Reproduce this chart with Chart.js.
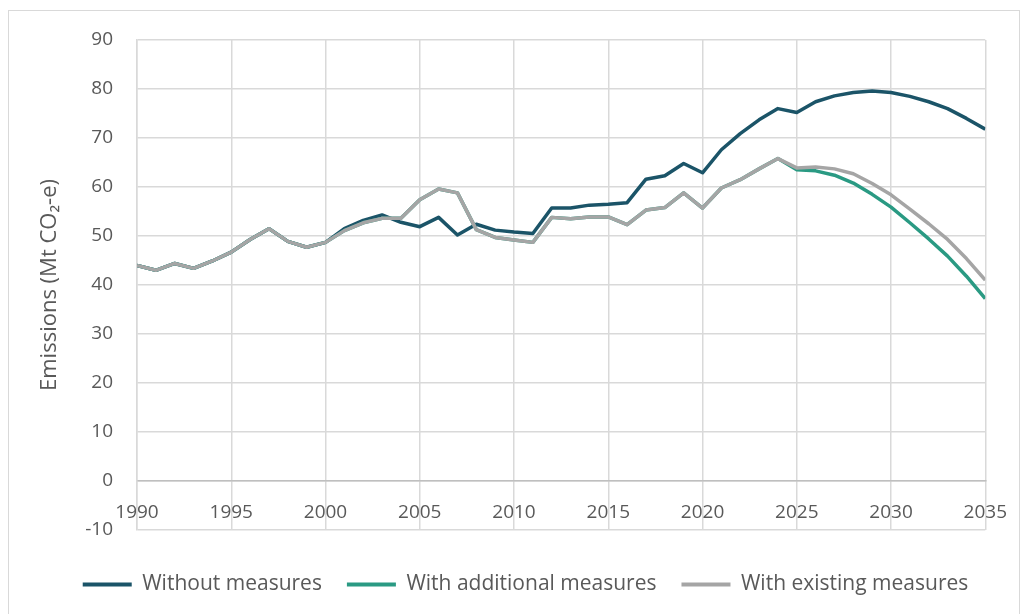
<!DOCTYPE html>
<html>
<head>
<meta charset="utf-8">
<script src="https://cdn.jsdelivr.net/npm/chart.js@4/dist/chart.umd.min.js"></script>
<style>
  html, body { margin: 0; padding: 0; background: #ffffff; }
  #wrap { position: relative; width: 1027px; height: 614px; overflow: hidden; }
  #frame { position: absolute; left: 8px; top: 10px; width: 1012px; height: 700px; border: 1px solid #d9d9d9; box-sizing: border-box; }
  canvas { position: absolute; left: 0; top: 0; }
</style>
</head>
<body>
<div id="wrap">
  <div id="frame"></div>
  <canvas id="c" width="1027" height="614"></canvas>
</div>
<script>
const years = [1990,1991,1992,1993,1994,1995,1996,1997,1998,1999,2000,2001,2002,2003,2004,2005,2006,2007,2008,2009,2010,2011,2012,2013,2014,2015,2016,2017,2018,2019,2020,2021,2022,2023,2024,2025,2026,2027,2028,2029,2030,2031,2032,2033,2034,2035];

const withoutMeasures = [44.0,43.0,44.4,43.4,44.9,46.7,49.3,51.5,48.9,47.7,48.7,51.5,53.2,54.3,52.8,51.9,53.8,50.2,52.4,51.2,50.8,50.5,55.7,55.7,56.3,56.5,56.8,61.6,62.3,64.8,62.9,67.6,70.9,73.7,76.0,75.2,77.4,78.6,79.3,79.6,79.3,78.5,77.4,76.0,74.0,71.8];

const withAdditional = [44.0,43.0,44.4,43.4,44.9,46.7,49.3,51.5,48.9,47.7,48.7,51.1,52.7,53.6,53.6,57.4,59.6,58.8,51.3,49.7,49.2,48.7,53.8,53.5,53.9,53.9,52.3,55.3,55.8,58.8,55.7,59.8,61.5,63.7,65.8,63.5,63.3,62.4,60.8,58.5,55.9,52.7,49.4,45.9,41.8,37.2];

const withExisting = [44.0,43.0,44.4,43.4,44.9,46.7,49.3,51.5,48.9,47.7,48.7,51.1,52.7,53.6,53.6,57.4,59.6,58.8,51.3,49.7,49.2,48.7,53.8,53.5,53.9,53.9,52.3,55.3,55.8,58.8,55.7,59.8,61.5,63.7,65.8,63.9,64.1,63.7,62.7,60.7,58.4,55.5,52.5,49.3,45.4,41.0];

const seriesNames = ['Without measures', 'With additional measures', 'With existing measures'];
const seriesColors = ['#1b5468', '#2a9a83', '#a5a5a5'];
const yTitle = 'Emissions (Mt CO\u2082-e)';

const toPoints = vals => years.map((yr, i) => ({ x: yr, y: vals[i] }));

const textColor = '#595959';
const fontFam = '"Open Sans", "Noto Sans", sans-serif';

const shiftLegend = {
  id: 'shiftLegend',
  afterLayout(chart) {
    const lg = chart.legend;
    if (!lg) return;
    lg.top += 19; lg.bottom += 19;
    lg.left += 32; lg.right += 32;
  }
};

new Chart(document.getElementById('c'), {
  type: 'line',
  data: {
    datasets: [
      { label: seriesNames[0], data: toPoints(withoutMeasures), borderColor: seriesColors[0], backgroundColor: seriesColors[0], order: 3 },
      { label: seriesNames[1], data: toPoints(withAdditional), borderColor: seriesColors[1], backgroundColor: seriesColors[1], order: 2 },
      { label: seriesNames[2], data: toPoints(withExisting), borderColor: seriesColors[2], backgroundColor: seriesColors[2], order: 1 }
    ]
  },
  options: {
    responsive: false,
    devicePixelRatio: 1,
    animation: false,
    elements: {
      line: { borderWidth: 3.5, tension: 0, borderJoinStyle: 'round', borderCapStyle: 'butt' },
      point: { radius: 0, hoverRadius: 0 }
    },
    layout: { padding: { top: 40, right: 40, bottom: 28, left: 0 } },
    scales: {
      x: {
        type: 'linear',
        position: { y: 0 },
        min: 1990,
        max: 2035,
        grid: { color: '#d9d9d9', lineWidth: 1.5, drawTicks: false },
        border: { display: true, color: '#bfbfbf', width: 1.5 },
        ticks: {
          stepSize: 5,
          padding: 20,
          color: textColor,
          font: { family: fontFam, size: 19 },
          maxRotation: 0,
          callback: v => String(v)
        }
      },
      y: {
        type: 'linear',
        position: 'left',
        min: -10,
        max: 90,
        afterFit: s => { s.width = 137; },
        grid: { color: '#d9d9d9', lineWidth: 1.5, drawTicks: false },
        border: { display: true, color: '#d9d9d9', width: 1.5 },
        ticks: {
          stepSize: 10,
          padding: 24,
          color: textColor,
          font: { family: fontFam, size: 19 }
        },
        title: {
          display: true,
          text: yTitle,
          color: textColor,
          font: { family: fontFam, size: 22 },
          padding: { top: 37, bottom: 0 }
        }
      }
    },
    plugins: {
      tooltip: { enabled: false },
      legend: {
        position: 'bottom',
        align: 'center',
        labels: {
          boxWidth: 49,
          boxHeight: 4,
          padding: 25,
          color: textColor,
          font: { family: fontFam, size: 21 },
          sort: (a, b) => a.datasetIndex - b.datasetIndex,
          generateLabels: chart => chart.data.datasets.map((ds, i) => ({
            text: ds.label,
            fillStyle: ds.borderColor,
            strokeStyle: ds.borderColor,
            lineWidth: 0,
            hidden: false,
            datasetIndex: i,
            fontColor: textColor
          }))
        }
      }
    }
  },
  plugins: [shiftLegend]
});
</script>
</body>
</html>
